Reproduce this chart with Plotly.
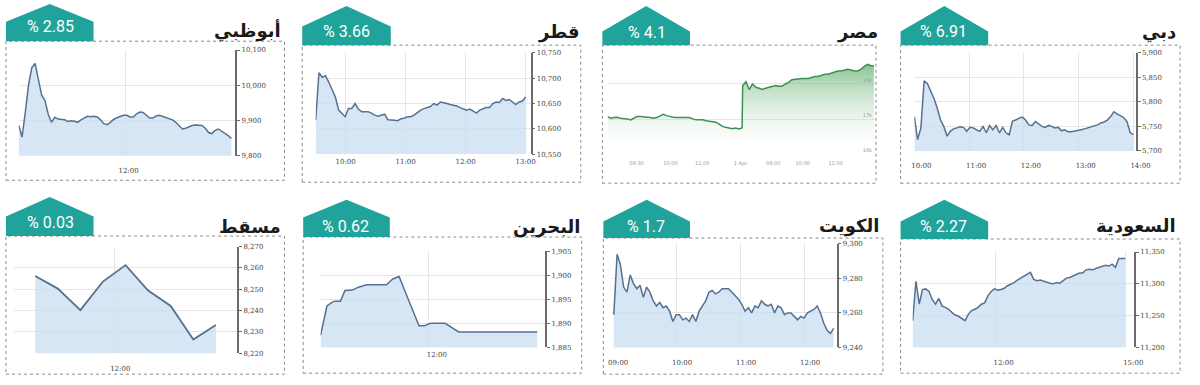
import numpy as np
import plotly.graph_objects as go

W, H = 1200, 385

def px(x):
    return x / W

def py(y):
    return 1 - y / H

# ---------------- data ----------------
NAMES = ["أبوظبي", "قطر", "مصر", "دبي", "مسقط", "البحرين", "الكويت", "السعودية"]
CHANGES = ["% 2.85", "% 3.66", "% 4.1", "% 6.91", "% 0.03", "% 0.62", "% 1.7", "% 2.27"]

# Abu Dhabi (minutes since midnight, evenly sampled 10:00-14:00)
AD_START, AD_END = 600, 839
AD_VALUES = [9886, 9853, 9923, 10002, 10050, 10062, 10016, 9972, 9957, 9918, 9895, 9909, 9904, 9904,
             9902, 9897, 9899, 9898, 9895, 9902, 9908, 9912, 9911, 9912, 9910, 9902, 9891, 9888, 9895,
             9903, 9908, 9912, 9915, 9915, 9910, 9910, 9919, 9924, 9923, 9915, 9907, 9907, 9913, 9915,
             9912, 9907, 9905, 9902, 9895, 9884, 9876, 9878, 9883, 9886, 9887, 9887, 9886, 9878, 9866,
             9863, 9872, 9876, 9870, 9865, 9857, 9849]

# Qatar 09:30-13:00
QA_START, QA_END = 570, 780
QA_VALUES = [10617, 10711, 10702, 10705, 10692, 10679, 10663, 10637, 10631, 10624, 10640, 10640, 10650,
             10639, 10634, 10634, 10634, 10631, 10627, 10625, 10627, 10629, 10618, 10618, 10617, 10616,
             10620, 10621, 10624, 10624, 10627, 10632, 10637, 10640, 10642, 10644, 10650, 10647, 10653,
             10652, 10650, 10648, 10647, 10645, 10642, 10640, 10637, 10639, 10635, 10631, 10637, 10640,
             10642, 10642, 10650, 10653, 10652, 10660, 10656, 10658, 10653, 10648, 10653, 10655, 10663]

# Egypt: two sessions, x = trading minutes
EG_DAY1 = [17070, 17023, 17042, 17051, 17023, 17023, 17005, 16977, 17023, 17070, 17070, 17070, 17051,
           17042, 17023, 17042, 17098, 17135, 17098, 17070, 17051, 17042, 17042, 17042, 17051, 17042,
           17005, 16977, 16977, 16977, 16949, 16930, 16912, 16912, 16856, 16791, 16763, 16744, 16726,
           16744, 16716, 16744]
EG_DAY2 = [17953, 18065, 17842, 18000, 17907, 17879, 17842, 17879, 17907, 17935, 17953, 17935, 17935,
           18000, 18046, 18121, 18139, 18158, 18158, 18158, 18158, 18186, 18214, 18214, 18251, 18279,
           18279, 18307, 18344, 18372, 18372, 18400, 18419, 18400, 18372, 18372, 18419, 18493, 18558,
           18530, 18512]
EG_DAY1_SPAN = (0, 246)
EG_DAY2_SPAN = (247, 487)
EG_TICKS = [53, 115, 173, 243, 303, 357, 417, 471]
EG_TICKTEXT = ["09:30", "10:00", "11:00", "1 Apr", "09:00", "10:00", "11:00", "12:00"]

# Dubai 10:00-14:00
DU_START, DU_END = 600, 840
DU_VALUES = [5770, 5723, 5747, 5843, 5837, 5823, 5807, 5787, 5763, 5750, 5730, 5740, 5745, 5747, 5749,
             5748, 5740, 5748, 5747, 5743, 5740, 5750, 5737, 5752, 5743, 5752, 5737, 5748, 5737, 5733,
             5761, 5763, 5767, 5769, 5763, 5753, 5752, 5760, 5755, 5750, 5748, 5752, 5750, 5747, 5748,
             5741, 5743, 5739, 5739, 5740, 5741, 5743, 5745, 5747, 5748, 5750, 5753, 5757, 5759, 5763,
             5770, 5780, 5775, 5772, 5768, 5760, 5737, 5733]

# Muscat
MU_TIMES = [650, 670, 690, 710, 730, 750, 770, 790, 810]
MU_VALUES = [8256.2, 8250.3, 8240.2, 8253.6, 8261.3, 8249.4, 8242.2, 8226.4, 8233.3]

# Bahrain
BH_TIMES = [600, 607, 613, 616, 622, 627, 635, 642, 651, 673, 680, 687, 696, 709, 715, 722, 738, 745, 753, 840]
BH_VALUES = [1887.5, 1893.6, 1894.4, 1894.6, 1894.6, 1896.8, 1896.9, 1897.5, 1898.0, 1898.0, 1899.2,
             1899.7, 1895.5, 1889.5, 1889.5, 1890.0, 1890.0, 1889.2, 1888.2, 1888.2]

# Kuwait 09:01-12:28
KW_START, KW_END = 541.5, 747.7
KW_VALUES = [9259, 9294, 9288, 9275, 9272, 9282, 9277, 9274, 9276, 9269, 9275, 9272, 9267, 9264, 9266,
             9263, 9264, 9261, 9255, 9259, 9259, 9256, 9257, 9255, 9259, 9255, 9261, 9264, 9267, 9272,
             9273, 9271, 9272, 9274, 9274, 9274, 9272, 9270, 9268, 9265, 9261, 9263, 9260, 9264, 9263,
             9267, 9265, 9264, 9265, 9260, 9264, 9263, 9259, 9260, 9260, 9258, 9256, 9258, 9257, 9260,
             9261, 9262, 9264, 9260, 9254, 9250, 9248, 9251]

# Saudi 10:05-15:00
SA_START, SA_END = 605, 900
SA_VALUES = [11242, 11304, 11268, 11291, 11292, 11288, 11275, 11268, 11277, 11265, 11263, 11260, 11255,
             11251, 11249, 11245, 11242, 11252, 11258, 11260, 11263, 11268, 11270, 11281, 11288, 11292,
             11290, 11291, 11293, 11297, 11299, 11302, 11306, 11309, 11311, 11315, 11318, 11307, 11305,
             11306, 11304, 11302, 11301, 11300, 11302, 11301, 11305, 11309, 11310, 11312, 11314, 11317,
             11317, 11322, 11323, 11322, 11324, 11326, 11327, 11329, 11328, 11331, 11326, 11340, 11340,
             11340]

def hhmm(m):
    return "%02d:%02d" % (int(m) // 60, int(m) % 60)

# ---------------- style ----------------
TEAL = "#1fa39b"
LINE = "#58708f"
FILL = "rgba(200,222,242,0.75)"
GRID = "#e6e6e6"
AXC = "#6b6b6b"
TICKFONT = dict(family="DejaVu Serif", size=7, color="#444")

series = [
    (np.linspace(AD_START, AD_END, len(AD_VALUES)), AD_VALUES),
    (np.linspace(QA_START, QA_END, len(QA_VALUES)), QA_VALUES),
    None,
    (np.linspace(DU_START, DU_END, len(DU_VALUES)), DU_VALUES),
    (np.array(MU_TIMES), MU_VALUES),
    (np.array(BH_TIMES), BH_VALUES),
    (np.linspace(KW_START, KW_END, len(KW_VALUES)), KW_VALUES),
    (np.linspace(SA_START, SA_END, len(SA_VALUES)), SA_VALUES),
]

panels = [
    dict(l=15, r=235, t=47, b=155, xr=[600, 843.3], yr=[9800, 10100], dt=100, xt=[720], sh=3, so=9),
    dict(l=316.7, r=535, t=50, b=153.3, xr=[570, 784.9], yr=[10550, 10750], dt=50, xt=[600, 660, 720, 780], sh=0, so=2),
    dict(l=613.3, r=885, t=46.7, b=153.3, xr=[0, 489], yr=[16000, 18977], dt=1000, xt=EG_TICKS, sh=0, so=5),
    dict(l=925, r=1150, t=50, b=150, xr=[600, 842.5], yr=[5700, 5900], dt=50, xt=[600, 660, 720, 780, 840], sh=7, so=9),
    dict(l=10, r=237, t=247.7, b=356.7, xr=[631.1, 828.9], yr=[8220, 8270], dt=10, xt=[720], sh=6, so=10),
    dict(l=321.7, r=550, t=252.3, b=350.7, xr=[600, 849], yr=[1885, 1905], dt=5, xt=[720], sh=8, so=2),
    dict(l=618, r=846, t=245, b=350.7, xr=[540, 750.5], yr=[9240, 9300], dt=20, xt=[540, 600, 660, 720], sh=6, so=10),
    dict(l=923.3, r=1148.3, t=253.3, b=350.7, xr=[605, 912.3], yr=[11200, 11350], dt=50, xt=[720, 900], sh=8, so=10),
]

boxes = [(2, 38, 285, 180), (303, 42, 586, 182), (608, 42, 886, 183), (911, 42, 1195, 183),
         (2, 237, 285, 378), (304, 238, 587, 377), (609, 239, 893, 378), (911, 240, 1195, 377)]
badges = [(2, 91, 18, 0), (303, 393, 23, 2), (608, 697, 28, 2), (911, 1000, 28, 2),
          (2, 91, 217, 197), (304, 392, 218, 200), (609, 697, 222, 200), (911, 1000, 222, 200)]
badge_text_pos = [(47, 23), (348, 28), (653, 29), (955, 28), (47, 223), (347, 227), (652, 227), (955, 227)]
title_pos = [(283, 27), (587, 29), (890, 29), (1193, 29), (283, 227), (587, 228), (892, 227), (1193, 227)]

fig = go.Figure()
layout = dict(width=W, height=H, margin=dict(l=0, r=0, t=0, b=0), paper_bgcolor="white",
              plot_bgcolor="white", showlegend=False)

for i, p in enumerate(panels):
    k = "" if i == 0 else str(i + 1)
    xa, ya = "x" + k, "y" + k
    if i == 2:
        x1 = np.linspace(EG_DAY1_SPAN[0], EG_DAY1_SPAN[1], len(EG_DAY1))
        x2 = np.linspace(EG_DAY2_SPAN[0], EG_DAY2_SPAN[1], len(EG_DAY2))
        xs = np.concatenate([x1, x2])
        ys = list(EG_DAY1) + list(EG_DAY2)
        fig.add_trace(go.Scatter(
            x=xs, y=ys, mode="lines", line=dict(color="#3f8f52", width=1.5),
            fill="tozeroy",
            fillgradient=dict(type="vertical", start=16000, stop=18600,
                              colorscale=[[0, "rgba(255,255,255,0)"], [1, "rgba(95,175,105,0.75)"]]),
            xaxis=xa, yaxis=ya, hoverinfo="skip"))
        ticktext = EG_TICKTEXT
    else:
        xs, ys = series[i]
        fig.add_trace(go.Scatter(
            x=xs, y=ys, mode="lines", line=dict(color=LINE, width=1.8 if i == 4 else 1.5),
            fill="tozeroy", fillcolor=FILL, xaxis=xa, yaxis=ya, hoverinfo="skip"))
        ticktext = [hhmm(v) for v in p["xt"]]

    xaxis = dict(domain=[px(p["l"]), px(p["r"])], range=p["xr"], anchor=ya,
                 tickmode="array", tickvals=p["xt"], ticktext=ticktext,
                 showgrid=(i != 2), gridcolor=GRID, gridwidth=1, zeroline=False, showline=False,
                 ticks="", tickfont=TICKFONT if i != 2 else dict(family="DejaVu Sans", size=5, color="#999"),
                 ticklabelshift=p["sh"], ticklabelstandoff=p["so"], fixedrange=True)
    yaxis = dict(domain=[py(p["b"]), py(p["t"])], range=p["yr"], anchor=xa, side="right",
                 dtick=p["dt"], tick0=p["yr"][0], tickformat=",", showgrid=True, gridcolor=GRID,
                 zeroline=False, fixedrange=True)
    if i == 2:
        yaxis.update(showline=False, ticks="", ticklabelposition="inside top",
                     tickformat="~s", tickfont=dict(family="DejaVu Sans", size=5, color="#999"))
    else:
        yaxis.update(showline=True, linecolor=AXC, linewidth=1.5, ticks="outside", ticklen=3,
                     tickcolor=AXC, tickwidth=1, tickfont=TICKFONT)
    layout["xaxis" + k] = xaxis
    layout["yaxis" + k] = yaxis

shapes = []
annotations = []
for i in range(8):
    l, t, r, b = boxes[i]
    shapes.append(dict(type="rect", xref="paper", yref="paper", x0=px(l), x1=px(r), y0=py(b), y1=py(t),
                       line=dict(color="#8a8a8a", width=1, dash="dot"), fillcolor="rgba(0,0,0,0)", layer="below"))
    bl, br, sh, ap = badges[i]
    bt = t
    cx = (bl + br) / 2
    path = "M %f,%f L %f,%f L %f,%f L %f,%f L %f,%f Z" % (
        px(bl), py(bt), px(bl), py(sh), px(cx), py(ap), px(br), py(sh), px(br), py(bt))
    shapes.append(dict(type="path", xref="paper", yref="paper", path=path, fillcolor=TEAL,
                       line=dict(width=0), layer="above"))
    tx, ty = badge_text_pos[i]
    annotations.append(dict(xref="paper", yref="paper", x=px(tx), y=py(ty), text=CHANGES[i],
                            showarrow=False, xanchor="center", yanchor="middle",
                            font=dict(family="Roboto", size=16, color="white")))
    nx, ny = title_pos[i]
    annotations.append(dict(xref="paper", yref="paper", x=px(nx), y=py(ny), text="<b>%s</b>" % NAMES[i],
                            showarrow=False, xanchor="right", yanchor="middle",
                            font=dict(family="DejaVu Sans", size=18, color="#1a1a1a")))

layout["shapes"] = shapes
layout["annotations"] = annotations
fig.update_layout(**layout)
fig.write_html("out.html", config={"displayModeBar": False},
               post_script="var d=document.getElementById('{plot_id}');"
                           "document.documentElement.style.margin='0';"
                           "document.documentElement.style.overflow='hidden';"
                           "document.body.style.margin='0';document.body.style.padding='0';"
                           "document.body.style.overflow='hidden';"
                           "d.style.position='fixed';d.style.left='0px';d.style.top='0px';"
                           "var vw=document.documentElement.clientWidth||window.innerWidth;"
                           "var vh=document.documentElement.clientHeight||window.innerHeight;"
                           "d.style.width=vw+'px';d.style.height=vh+'px';"
                           "Plotly.relayout(d,{width:vw,height:vh});")
